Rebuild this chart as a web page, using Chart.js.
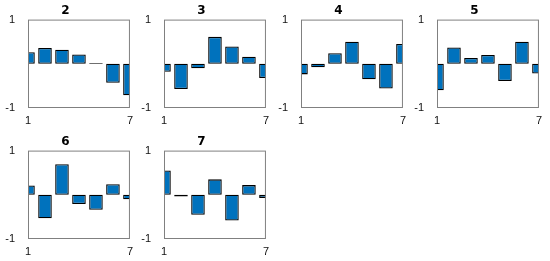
<!DOCTYPE html>
<html>
<head>
<meta charset="utf-8">
<script src="https://cdn.jsdelivr.net/npm/chart.js@4/dist/chart.umd.min.js"></script>
<style>
  html, body { margin: 0; padding: 0; background: #fff; }
  #wrap { position: relative; width: 550px; height: 261px; overflow: hidden; }
  #wrap canvas { position: absolute; }
</style>
</head>
<body>
<div id="wrap"></div>
<script>
// datos
const positions = [1, 2, 3, 4, 5, 6, 7];
const titles = ['2', '3', '4', '5', '6', '7'];
const v2 = [0.26, 0.36, 0.32, 0.21, 0.02, -0.43, -0.71];
const v3 = [-0.18, -0.57, -0.10, 0.61, 0.39, 0.16, -0.32];
const v4 = [-0.24, -0.08, 0.24, 0.50, -0.35, -0.56, 0.45];
const v5 = [-0.60, 0.37, 0.13, 0.20, -0.39, 0.50, -0.22];
const v6 = [0.21, -0.53, 0.69, -0.21, -0.34, 0.24, -0.10];
const v7 = [0.55, -0.04, -0.45, 0.35, -0.58, 0.22, -0.07];
const series = [v2, v3, v4, v5, v6, v7];
const xTicks = [1, 7];
const yTicks = [-1, 1];

// posición de cada caja (esquina superior izquierda del área de datos)
const boxes = [
    { left: 28, top: 18 }, { left: 164, top: 18 }, { left: 301, top: 18 }, { left: 437, top: 18 },
    { left: 28, top: 149 }, { left: 164, top: 149 }
];
const AXIS_W = 28, TITLE_H = 18, XAXIS_H = 20, PLOT_W = 103, PLOT_H = 90, PAD_R = 8;

const tickFont = { family: 'Liberation Sans, Arial, sans-serif', size: 11 };

// marco gris alrededor del área de datos
const boxPlugin = {
    id: 'boxFrame',
    afterDatasetsDraw(chart) {
        const a = chart.chartArea;
        const ctx = chart.ctx;
        ctx.save();
        ctx.strokeStyle = '#808080';
        ctx.lineWidth = 1;
        ctx.strokeRect(a.left + 0.5, a.top + 0.5, a.right - a.left - 1, a.bottom - a.top - 1);
        ctx.restore();
    }
};

const wrap = document.getElementById('wrap');

series.forEach((vals, k) => {
    const canvas = document.createElement('canvas');
    canvas.width = AXIS_W + PLOT_W + PAD_R;
    canvas.height = TITLE_H + PLOT_H + XAXIS_H;
    canvas.style.left = (boxes[k].left - AXIS_W) + 'px';
    canvas.style.top = (boxes[k].top - TITLE_H) + 'px';
    wrap.appendChild(canvas);

    new Chart(canvas, {
        type: 'bar',
        data: {
            datasets: [{
                data: positions.map((p, i) => ({ x: p, y: vals[i] })),
                backgroundColor: '#0072BD',
                borderColor: '#000000',
                borderWidth: 1.3,
                borderSkipped: false,
                categoryPercentage: 1,
                barPercentage: 0.8
            }]
        },
        options: {
            responsive: false,
            animation: false,
            devicePixelRatio: 1,
            layout: { padding: { left: 0, right: PAD_R, top: 0, bottom: 0 } },
            plugins: {
                legend: { display: false },
                tooltip: { enabled: false },
                title: {
                    display: true,
                    text: titles[k],
                    color: '#000',
                    font: { family: 'DejaVu Sans, sans-serif', size: 12, weight: 'bold', lineHeight: 1.2 },
                    padding: { top: 2, bottom: 1.6 }
                }
            },
            scales: {
                x: {
                    type: 'linear',
                    min: 1,
                    max: 7,
                    offset: false,
                    grid: { display: false, drawTicks: false },
                    border: { display: false },
                    afterBuildTicks: s => { s.ticks = xTicks.map(v => ({ value: v })); },
                    afterFit: s => { s.height = XAXIS_H; },
                    ticks: { color: '#111', font: tickFont, padding: 6, maxRotation: 0, autoSkip: false }
                },
                y: {
                    min: -1,
                    max: 1,
                    grid: { display: false, drawTicks: false },
                    border: { display: false },
                    afterBuildTicks: s => { s.ticks = yTicks.map(v => ({ value: v })); },
                    afterFit: s => { s.width = AXIS_W; },
                    ticks: { color: '#111', font: tickFont, padding: 13 }
                }
            }
        },
        plugins: [boxPlugin]
    });
});
</script>
</body>
</html>
